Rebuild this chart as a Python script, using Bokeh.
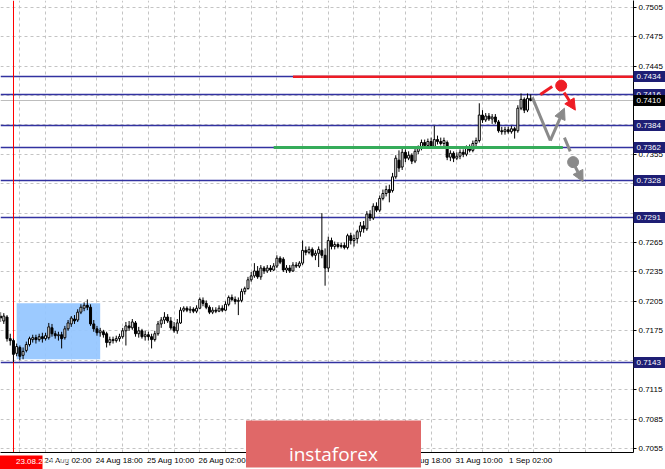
from bokeh.plotting import figure
from bokeh.models import FixedTicker, LinearAxis, Arrow, NormalHead, ColumnDataSource
from bokeh.embed import file_html
from bokeh.resources import INLINE

# ---------------- data (H1 candles) ----------------
bars = list(range(-4, 162))   # bar 0 = 23.08.21 16:00

opens = [
    0.7190, 0.7185, 0.7189, 0.7167, 0.7165, 0.7152, 0.7158, 0.7150, 0.7155, 0.7161,
    0.7166, 0.7168, 0.7166, 0.7169, 0.7167, 0.7168, 0.7178, 0.7172, 0.7170, 0.7171,
    0.7168, 0.7177, 0.7182, 0.7187, 0.7186, 0.7194, 0.7198, 0.7201, 0.7199, 0.7182,
    0.7177, 0.7173, 0.7174, 0.7172, 0.7163, 0.7166, 0.7165, 0.7167, 0.7169, 0.7175,
    0.7180, 0.7178, 0.7183, 0.7172, 0.7175, 0.7169, 0.7171, 0.7169, 0.7166, 0.7172,
    0.7182, 0.7186, 0.7189, 0.7185, 0.7179, 0.7175, 0.7183, 0.7196, 0.7198, 0.7196,
    0.7197, 0.7195, 0.7198, 0.7206, 0.7203, 0.7199, 0.7194, 0.7196, 0.7195, 0.7198,
    0.7196, 0.7202, 0.7209, 0.7207, 0.7205, 0.7206, 0.7215, 0.7218, 0.7227, 0.7231,
    0.7236, 0.7230, 0.7239, 0.7236, 0.7239, 0.7237, 0.7241, 0.7249, 0.7248, 0.7237,
    0.7239, 0.7236, 0.7242, 0.7241, 0.7244, 0.7257, 0.7255, 0.7258, 0.7252, 0.7254,
    0.7257, 0.7252, 0.7239, 0.7267, 0.7261, 0.7263, 0.7261, 0.7262, 0.7260, 0.7272,
    0.7267, 0.7269, 0.7276, 0.7282, 0.7279, 0.7294, 0.7290, 0.7302, 0.7298, 0.7310,
    0.7315, 0.7319, 0.7318, 0.7332, 0.7349, 0.7342, 0.7357, 0.7351, 0.7354, 0.7348,
    0.7358, 0.7361, 0.7367, 0.7364, 0.7368, 0.7363, 0.7370, 0.7368, 0.7366, 0.7367,
    0.7352, 0.7356, 0.7351, 0.7353, 0.7357, 0.7355, 0.7361, 0.7359, 0.7366, 0.7369,
    0.7395, 0.7390, 0.7394, 0.7391, 0.7393, 0.7388, 0.7379, 0.7378, 0.7380, 0.7378,
    0.7381, 0.7379, 0.7402, 0.7411, 0.7400, 0.7412,
]
highs = [
    0.7194, 0.7193, 0.7191, 0.7172, 0.7167, 0.7162, 0.7160, 0.7158, 0.7164, 0.7169,
    0.7171, 0.7171, 0.7172, 0.7173, 0.7173, 0.7183, 0.7182, 0.7175, 0.7174, 0.7174,
    0.7180, 0.7186, 0.7190, 0.7191, 0.7197, 0.7202, 0.7204, 0.7207, 0.7202, 0.7186,
    0.7180, 0.7178, 0.7176, 0.7174, 0.7169, 0.7169, 0.7170, 0.7172, 0.7178, 0.7184,
    0.7185, 0.7187, 0.7185, 0.7179, 0.7177, 0.7175, 0.7174, 0.7172, 0.7175, 0.7185,
    0.7189, 0.7194, 0.7192, 0.7189, 0.7184, 0.7187, 0.7199, 0.7200, 0.7200, 0.7200,
    0.7199, 0.7201, 0.7209, 0.7209, 0.7206, 0.7201, 0.7199, 0.7199, 0.7201, 0.7201,
    0.7205, 0.7211, 0.7212, 0.7210, 0.7209, 0.7218, 0.7220, 0.7230, 0.7235, 0.7244,
    0.7241, 0.7242, 0.7241, 0.7242, 0.7242, 0.7244, 0.7252, 0.7251, 0.7250, 0.7242,
    0.7242, 0.7245, 0.7245, 0.7246, 0.7267, 0.7261, 0.7261, 0.7260, 0.7257, 0.7261,
    0.7295, 0.7259, 0.7271, 0.7270, 0.7266, 0.7265, 0.7265, 0.7265, 0.7274, 0.7275,
    0.7273, 0.7278, 0.7286, 0.7287, 0.7297, 0.7298, 0.7305, 0.7306, 0.7313, 0.7319,
    0.7323, 0.7324, 0.7336, 0.7354, 0.7359, 0.7363, 0.7360, 0.7358, 0.7356, 0.7361,
    0.7364, 0.7370, 0.7370, 0.7371, 0.7372, 0.7384, 0.7374, 0.7372, 0.7372, 0.7369,
    0.7359, 0.7358, 0.7357, 0.7360, 0.7360, 0.7364, 0.7365, 0.7369, 0.7372, 0.7407,
    0.7400, 0.7397, 0.7397, 0.7396, 0.7396, 0.7390, 0.7383, 0.7383, 0.7383, 0.7384,
    0.7383, 0.7405, 0.7417, 0.7413, 0.7417, 0.7416,
]
lows = [
    0.7184, 0.7182, 0.7164, 0.7160, 0.7143, 0.7149, 0.7145, 0.7146, 0.7153, 0.7159,
    0.7163, 0.7162, 0.7164, 0.7163, 0.7165, 0.7166, 0.7169, 0.7167, 0.7165, 0.7157,
    0.7166, 0.7175, 0.7179, 0.7182, 0.7184, 0.7192, 0.7195, 0.7196, 0.7180, 0.7174,
    0.7170, 0.7169, 0.7168, 0.7158, 0.7160, 0.7162, 0.7163, 0.7164, 0.7167, 0.7160,
    0.7175, 0.7176, 0.7169, 0.7168, 0.7167, 0.7165, 0.7165, 0.7157, 0.7164, 0.7170,
    0.7178, 0.7182, 0.7183, 0.7176, 0.7173, 0.7172, 0.7182, 0.7194, 0.7194, 0.7193,
    0.7193, 0.7193, 0.7197, 0.7200, 0.7197, 0.7192, 0.7192, 0.7193, 0.7194, 0.7194,
    0.7195, 0.7200, 0.7205, 0.7202, 0.7191, 0.7204, 0.7212, 0.7217, 0.7225, 0.7229,
    0.7228, 0.7227, 0.7233, 0.7234, 0.7235, 0.7236, 0.7239, 0.7243, 0.7235, 0.7234,
    0.7234, 0.7235, 0.7239, 0.7239, 0.7242, 0.7252, 0.7253, 0.7250, 0.7247, 0.7240,
    0.7249, 0.7221, 0.7235, 0.7258, 0.7258, 0.7259, 0.7259, 0.7258, 0.7258, 0.7263,
    0.7261, 0.7264, 0.7271, 0.7275, 0.7277, 0.7287, 0.7288, 0.7296, 0.7296, 0.7308,
    0.7312, 0.7306, 0.7316, 0.7330, 0.7337, 0.7339, 0.7347, 0.7349, 0.7345, 0.7346,
    0.7355, 0.7359, 0.7362, 0.7362, 0.7361, 0.7361, 0.7365, 0.7364, 0.7363, 0.7349,
    0.7348, 0.7347, 0.7349, 0.7350, 0.7352, 0.7353, 0.7357, 0.7357, 0.7363, 0.7367,
    0.7387, 0.7388, 0.7389, 0.7386, 0.7386, 0.7377, 0.7375, 0.7375, 0.7376, 0.7376,
    0.7371, 0.7377, 0.7400, 0.7397, 0.7398, 0.7409,
]
closes = [
    0.7188, 0.7190, 0.7167, 0.7165, 0.7151, 0.7159, 0.7149, 0.7154, 0.7161, 0.7167,
    0.7168, 0.7166, 0.7169, 0.7167, 0.7170, 0.7179, 0.7172, 0.7170, 0.7171, 0.7167,
    0.7177, 0.7183, 0.7188, 0.7185, 0.7194, 0.7199, 0.7201, 0.7199, 0.7182, 0.7177,
    0.7173, 0.7175, 0.7171, 0.7163, 0.7166, 0.7165, 0.7167, 0.7169, 0.7175, 0.7180,
    0.7178, 0.7184, 0.7172, 0.7175, 0.7169, 0.7171, 0.7169, 0.7166, 0.7172, 0.7182,
    0.7186, 0.7189, 0.7185, 0.7178, 0.7175, 0.7183, 0.7196, 0.7198, 0.7196, 0.7197,
    0.7195, 0.7198, 0.7207, 0.7203, 0.7199, 0.7194, 0.7196, 0.7195, 0.7198, 0.7196,
    0.7202, 0.7209, 0.7207, 0.7205, 0.7206, 0.7215, 0.7218, 0.7227, 0.7231, 0.7236,
    0.7230, 0.7239, 0.7236, 0.7239, 0.7237, 0.7241, 0.7249, 0.7245, 0.7237, 0.7239,
    0.7236, 0.7242, 0.7241, 0.7244, 0.7257, 0.7255, 0.7258, 0.7252, 0.7254, 0.7258,
    0.7252, 0.7239, 0.7267, 0.7261, 0.7263, 0.7261, 0.7262, 0.7260, 0.7272, 0.7267,
    0.7269, 0.7276, 0.7282, 0.7279, 0.7294, 0.7290, 0.7302, 0.7298, 0.7310, 0.7315,
    0.7319, 0.7316, 0.7332, 0.7351, 0.7341, 0.7357, 0.7351, 0.7354, 0.7348, 0.7358,
    0.7361, 0.7367, 0.7364, 0.7368, 0.7363, 0.7370, 0.7368, 0.7366, 0.7369, 0.7352,
    0.7356, 0.7351, 0.7353, 0.7357, 0.7355, 0.7361, 0.7359, 0.7366, 0.7369, 0.7395,
    0.7390, 0.7394, 0.7391, 0.7393, 0.7388, 0.7379, 0.7378, 0.7380, 0.7378, 0.7381,
    0.7379, 0.7402, 0.7411, 0.7400, 0.7412, 0.7410,
]

price_ticks = [0.7055, 0.7085, 0.7115, 0.7145, 0.7175, 0.7205, 0.7235, 0.7265,
               0.7295, 0.7325, 0.7355, 0.7385, 0.7415, 0.7445, 0.7475, 0.7505]
hidden_price_ticks = [0.7145, 0.7295, 0.7325, 0.7385, 0.7415]

time_ticks = [10, 26, 42, 58, 74, 90, 106, 122, 138, 154]
time_labels = ["24 Aug 02:00", "24 Aug 18:00", "25 Aug 10:00", "26 Aug 02:00",
               "26 Aug 18:00", "27 Aug 10:00", "30 Aug 02:00", "30 Aug 18:00",
               "31 Aug 10:00", "1 Sep 02:00"]

levels = [0.7434, 0.7416, 0.7384, 0.7362, 0.7328, 0.7291, 0.7143]
bid_price = 0.7410
resistance = 0.7434
resistance_from = 87
support = 0.7362
support_span = [81, 171]
box_bars = [1, 27]
box_prices = [0.7146, 0.7203]
marker_bar = 0
marker_label = "23.08.21 16:00"
marker_label_end = 9.1
logo_bar = 99.6
logo_text = "instaforex"

red_dash_x, red_dash_y = [164.0, 167.7], [0.7416, 0.7424]
red_dot_x, red_dot_y = [170.5], [0.7425]
red_arrow_x, red_arrow_y = [171.4, 174.9], [0.7418, 0.7400]
zig_x, zig_y = [161.5, 167.1, 171.5], [0.7413, 0.7369, 0.7402]
gray_dash_x, gray_dash_y = [171.5, 173.3], [0.7372, 0.7358]
gray_dot_x, gray_dot_y = [174.2], [0.7347]
gray_arrow_x, gray_arrow_y = [174.9, 177.3], [0.7342, 0.7327]

# ---------------- styles ----------------
NAVY = "#3232a0"
TAG = "#1e1e74"
RED = "#ee1c24"
GREEN = "#35ac5a"
GRAY = "#8a8a8a"
LOGO = "#e06868"
FONT = "Liberation Sans"

p = figure(width=665, height=469, x_range=(-4.03, 193.0),
           y_range=(0.70509, 0.75118), y_axis_location="right",
           output_backend="svg", toolbar_location=None, min_border=0)
p.outline_line_color = None
p.background_fill_color = "white"

# main axes
p.yaxis.ticker = FixedTicker(ticks=price_ticks)
p.yaxis.major_label_overrides = {t: ("" if t in hidden_price_ticks else f"{t:.4f}") for t in price_ticks}
p.yaxis.major_tick_out = 3
p.yaxis.major_tick_in = 0
p.yaxis.major_label_standoff = 2

label_shift = 7.0
p.xaxis.ticker = FixedTicker(ticks=[t + label_shift for t in time_ticks])
p.xaxis.major_label_overrides = {t + label_shift: s for t, s in zip(time_ticks, time_labels)}
p.xaxis.major_tick_out = 0
p.xaxis.major_tick_in = 0
p.xaxis.major_label_standoff = 3
for ax in (p.xaxis[0], p.yaxis[0]):
    ax.minor_tick_out = 0
    ax.minor_tick_in = 0
    ax.axis_line_color = "black"
    ax.major_label_text_font = FONT
    ax.major_label_text_font_size = "8px"
    ax.major_label_text_color = "black"

p.xgrid.ticker = FixedTicker(ticks=list(range(2, 194, 8)))
p.ygrid.ticker = FixedTicker(ticks=price_ticks)
for g in (p.xgrid[0], p.ygrid[0]):
    g.grid_line_color = "#c4c4c4"
    g.grid_line_dash = "3 3"
    g.grid_line_width = 1


def tag_axis(ticks, labels, color, side, block_len, block_w, standoff,
             text_color="white", font=FONT, size="8px", align=None):
    """Extra zero-width axis whose thick tick marks form coloured tags."""
    ax = LinearAxis(ticker=FixedTicker(ticks=ticks),
                    major_label_overrides=dict(zip(ticks, labels)))
    ax.axis_line_color = None
    ax.major_tick_in = block_len
    ax.major_tick_out = 0
    ax.minor_tick_in = 0
    ax.minor_tick_out = 0
    ax.major_tick_line_width = block_w
    ax.major_tick_line_color = color
    ax.major_label_standoff = standoff
    ax.major_label_text_color = text_color
    ax.major_label_text_font = font
    ax.major_label_text_font_size = size
    if align is not None:
        ax.major_label_text_align = align
    p.add_layout(ax, side)
    return ax


# blue zone
p.quad(left=[box_bars[0]], right=[box_bars[1]], bottom=[box_prices[0]], top=[box_prices[1]],
       fill_color="#94c6ff", line_color=None, fill_alpha=0.92)

# horizontal levels
p.hspan(y=levels, line_color=NAVY, line_width=1.3)
p.hspan(y=[bid_price], line_color="#bdbdbd", line_width=1)
p.vspan(x=[marker_bar], line_color="red", line_width=1)

# candles
src = ColumnDataSource(dict(
    x=bars,
    high=highs,
    low=lows,
    top=[max(o, c) for o, c in zip(opens, closes)],
    bottom=[min(o, c) for o, c in zip(opens, closes)],
    fill=["white" if c >= o else "black" for o, c in zip(opens, closes)],
))
p.segment(x0="x", y0="low", x1="x", y1="high", source=src, line_color="black", line_width=1)
p.vbar(x="x", width=0.62, top="top", bottom="bottom", source=src,
       fill_color="fill", line_color="black", line_width=1)

# support / resistance
p.segment(x0=[support_span[0]], y0=[support], x1=[support_span[1]], y1=[support],
          line_color=GREEN, line_width=3)
p.segment(x0=[resistance_from], y0=[resistance], x1=[193.0], y1=[resistance],
          line_color=RED, line_width=2.5)

# forecast arrows
p.line(red_dash_x, red_dash_y, line_color=RED, line_width=3)
p.scatter(red_dot_x, red_dot_y, size=11, fill_color=RED, line_color=RED)
p.add_layout(Arrow(x_start=red_arrow_x[0], y_start=red_arrow_y[0], x_end=red_arrow_x[1], y_end=red_arrow_y[1],
                   line_color=RED, line_width=3,
                   end=NormalHead(size=11, fill_color=RED, line_color=RED)))
p.line(zig_x[:2], zig_y[:2], line_color=GRAY, line_width=3)
p.add_layout(Arrow(x_start=zig_x[1], y_start=zig_y[1], x_end=zig_x[2], y_end=zig_y[2],
                   line_color=GRAY, line_width=3,
                   end=NormalHead(size=11, fill_color=GRAY, line_color=GRAY)))
p.line(gray_dash_x, gray_dash_y, line_color=GRAY, line_width=3)
p.scatter(gray_dot_x, gray_dot_y, size=11, fill_color=GRAY, line_color=GRAY)
p.add_layout(Arrow(x_start=gray_arrow_x[0], y_start=gray_arrow_y[0], x_end=gray_arrow_x[1], y_end=gray_arrow_y[1],
                   line_color=GRAY, line_width=3,
                   end=NormalHead(size=11, fill_color=GRAY, line_color=GRAY)))

# price tags on the right (level lines in navy, bid in black)
tag_axis(levels, [f"{lv:.4f}" for lv in levels], TAG, "right", 32, 11, -29)
tag_axis([bid_price], [f"{bid_price:.4f}"], "black", "right", 32, 11, -29)

# watermark and the vertical line's time tag at the bottom
tag_axis([logo_bar], [logo_text], LOGO, "below", 47, 175, -27,
         font="Open Sans", size="19px")
tag_axis([marker_bar], [""], "red", "below", 14, 58, -13)
tag_axis([marker_label_end], [marker_label], "red", "below", 0, 1, -13, align="right")

open("out.html", "w").write(file_html(p, INLINE))
